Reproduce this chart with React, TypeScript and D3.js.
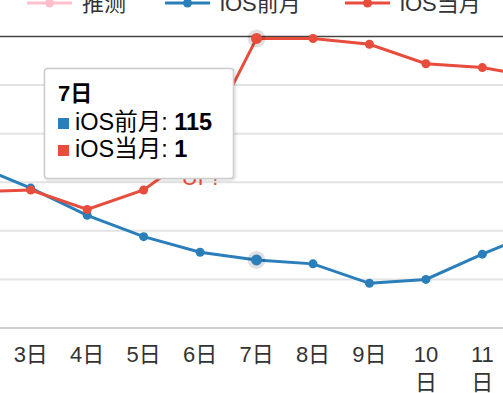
import * as d3 from 'd3';

// x categories (days) and the two ranking series (y axis is reversed: 1 at top)
const days = ['2日', '3日', '4日', '5日', '6日', '7日', '8日', '9日', '10日', '11日', '12日'];
const iosPrev = [66, 78, 92, 103, 111, 115, 117, 127, 125, 112, 100];
const iosCurr = [80, 79, 89, 79, 58, 1, 1, 4, 14, 16, 21];
const yTicks = [0, 25, 50, 75, 100, 125, 150];

const legendItems = [
  { label: '推测', color: '#ffc0cb', x: 27 },
  { label: 'iOS前月', color: '#2a7fba', x: 165 },
  { label: 'iOS当月', color: '#e74c3c', x: 345 },
];

const W = 503;
const H = 393;
const FONT = '"Liberation Sans", Arial, "Noto Sans CJK SC", sans-serif';
const BLUE = '#2a7fba';
const RED = '#e74c3c';
const hoverIndex = 5; // 7日

export default function App() {
  const x = d3.scalePoint<string>().domain(days).range([-25.7, 538.8]);
  const y = d3.scaleLinear().domain([0, 150]).range([36.5, 328]);

  const line = d3.line<number>()
    .x((_, i) => x(days[i]) as number)
    .y(d => y(d));

  const hx = x(days[hoverIndex]) as number;

  return (
    <svg
      width={W}
      height={H}
      style={{ position: 'fixed', left: 0, top: 0, background: '#fff', fontFamily: FONT }}
    >
      <defs>
        <filter id="shadow" x="-10%" y="-10%" width="130%" height="130%">
          <feDropShadow dx="1" dy="1" stdDeviation="1.5" floodColor="#000" floodOpacity="0.18" />
        </filter>
      </defs>

      {/* grid lines */}
      {yTicks.map(t => (
        <line
          key={t}
          x1={0}
          x2={W}
          y1={y(t)}
          y2={y(t)}
          stroke={t === 0 ? '#444' : t === 150 ? '#cfcfcf' : '#e3e3e3'}
          strokeWidth={t === 0 ? 1.5 : 2}
        />
      ))}

      {/* legend (cut at top) */}
      {legendItems.map(item => (
        <g key={item.label}>
          <line x1={item.x} x2={item.x + 45} y1={3} y2={3} stroke={item.color} strokeWidth={3} />
          <circle cx={item.x + 22.5} cy={3} r={4.5} fill={item.color} />
          <text x={item.x + 55} y={11} fontSize={22} fill="#333">{item.label}</text>
        </g>
      ))}

      {/* series */}
      <path d={line(iosPrev) || ''} fill="none" stroke={BLUE} strokeWidth={3} />
      <path d={line(iosCurr) || ''} fill="none" stroke={RED} strokeWidth={3} />

      {/* hover halos */}
      <circle cx={hx} cy={y(iosPrev[hoverIndex])} r={9} fill="#000" opacity={0.12} />
      <circle cx={hx} cy={y(iosCurr[hoverIndex])} r={9} fill="#000" opacity={0.12} />

      {iosPrev.map((v, i) => (
        <circle key={'b' + i} cx={x(days[i])} cy={y(v)} r={i === hoverIndex ? 5.5 : 4.5} fill={BLUE} />
      ))}
      {iosCurr.map((v, i) => (
        <circle key={'r' + i} cx={x(days[i])} cy={y(v)} r={i === hoverIndex ? 5.5 : 4.5} fill={RED} />
      ))}

      {/* data label of 6日 */}
      <text x={x('6日')} y={185} fontSize={22} fill={RED} textAnchor="middle">UP!</text>

      {/* x axis labels */}
      {days.map(d => {
        const num = d.replace('日', '');
        const cx = x(d) as number;
        return num.length > 1 ? (
          <text key={d} x={cx} y={362} fontSize={22} fill="#333" textAnchor="middle">
            <tspan x={cx}>{num}</tspan>
            <tspan x={cx} dy={28}>日</tspan>
          </text>
        ) : (
          <text key={d} x={cx} y={362} fontSize={22} fill="#333" textAnchor="middle">{d}</text>
        );
      })}

      {/* tooltip */}
      <g>
        <rect x={44.5} y={68.5} width={189} height={110} rx={3} fill="#fff" stroke="#cccccc" strokeWidth={1.5} filter="url(#shadow)" />
        <text x={58} y={101} fontSize={22} fontWeight="bold" fill="#000">{days[hoverIndex]}</text>
        <rect x={58} y={118} width={11} height={11} fill={BLUE} />
        <text x={75} y={130} fontSize={23.5} fill="#000">
          iOS前月: <tspan fontWeight="bold">{iosPrev[hoverIndex]}</tspan>
        </text>
        <rect x={58} y={145} width={11} height={11} fill={RED} />
        <text x={75} y={157} fontSize={23.5} fill="#000">
          iOS当月: <tspan fontWeight="bold">{iosCurr[hoverIndex]}</tspan>
        </text>
      </g>
    </svg>
  );
}
